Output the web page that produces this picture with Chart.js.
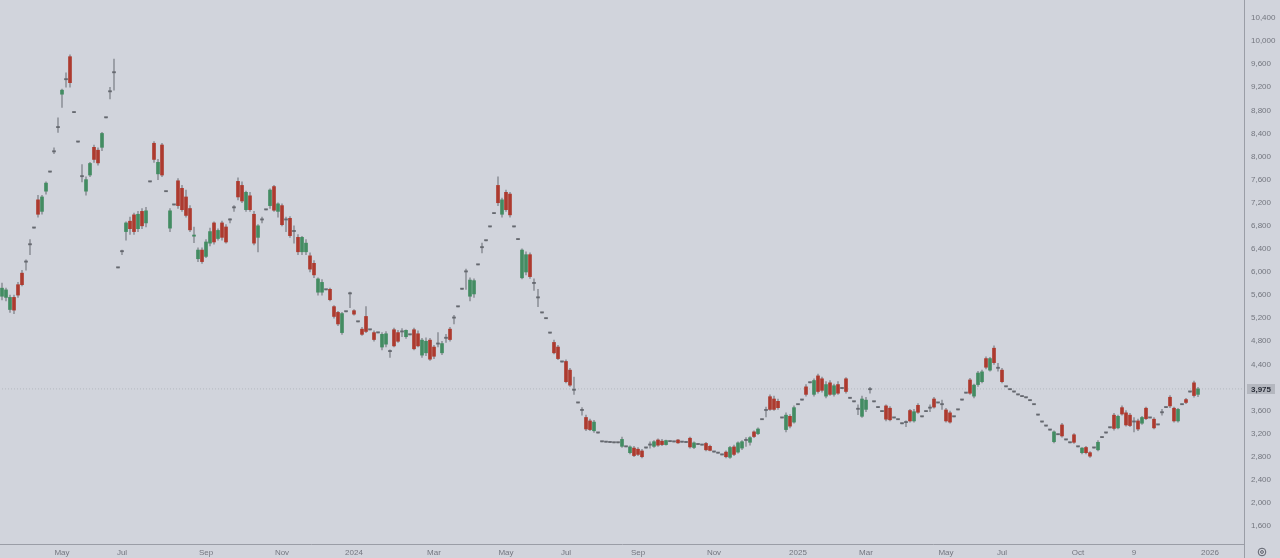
<!DOCTYPE html>
<html>
<head>
<meta charset="utf-8">
<script src="https://cdn.jsdelivr.net/npm/chart.js@4"></script>
<style>
  html, body { margin: 0; padding: 0; background: #d1d4dc; }
  #wrap { width: 1280px; height: 558px; position: relative; }
</style>
</head>
<body>
<div id="wrap"><canvas id="chart"></canvas></div>
<script>
// candles: [open, high, low, close]; a single number is a flat bar (o = h = l = c)
const candles2023 = [
  [5580,5810,5516,5720],[5560,5720,5500,5690],[5350,5600,5300,5560],[5560,5600,5280,5340],[5780,5820,5560,5600],
  [5980,6030,5760,5780],[6170,6210,6030,6170],[6470,6560,6300,6470],6760,[7250,7330,6950,7000],
  [7050,7330,7000,7300],[7400,7560,7350,7540],7730,[8080,8150,8050,8080],[8500,8670,8420,8500],
  [9080,9170,8850,9150],[9330,9450,9200,9330],[9730,9760,9200,9280],8760,8250,
  [7650,7860,7560,7650],[7400,7650,7330,7600],[7680,7900,7650,7880],[8160,8200,7900,7950],[8110,8150,7850,7890],
  [8160,8420,8100,8400],8670,[9120,9200,9000,9120],[9450,9690,9150,9450],6070,
  [6350,6380,6300,6350],[6700,6870,6550,6850],[6880,6950,6650,6750],[6990,7020,6650,6700],[6750,7050,6700,7000],
  [7050,7100,6750,6800],[6850,7120,6780,7060],7560,[8230,8260,7900,7950],[7700,7950,7600,7900],
  [8200,8230,7650,7680],7390,[6760,7100,6700,7060],7160,[7580,7620,7100,7150],
  [7450,7500,7050,7080],[7300,7420,6950,6980],[7100,7150,6700,6730],[6620,6780,6510,6640],[6230,6420,6180,6380],
  [6380,6420,6150,6180],[6270,6560,6250,6520],[6500,6760,6450,6700],[6850,6870,6480,6520],[6580,6750,6550,6720],
  [6850,6880,6550,6600],[6780,6820,6500,6520],[6900,6920,6850,6900],[7110,7150,7050,7110],[7570,7630,7250,7300],
  [7500,7560,7200,7230],[7080,7400,7050,7380],[7320,7380,7050,7080],[7000,7050,6470,6500],[6600,6820,6350,6800],
  [6900,6950,6850,6900],7075,[7150,7440,7100,7420],[7480,7500,7050,7070],[7050,7200,6950,7180],
  [7150,7180,6800,6820],[6900,6950,6700,6900],[6930,6960,6600,6630],[6700,6800,6500,6700],[6600,6650,6300,6350],
  [6350,6620,6300,6600],[6350,6560,6300,6500],[6280,6330,6000,6050],[6150,6200,5900,5950],[5650,5900,5600,5880],
  [5650,5870,5600,5820],5690,[5700,5720,5500,5520],[5400,5420,5200,5230],[5300,5320,5070,5100],
  [4950,5300,4920,5280],5310,[5620,5650,5380,5620]
];

const candles2024 = [
  [5330,5350,5250,5270],5135,[5010,5040,4900,4920],[5230,5400,4950,4970],4996,
  [4950,4980,4800,4830],4944,[4700,4950,4650,4920],[4750,4970,4700,4930],[4620,4650,4520,4620],
  [5000,5030,4700,4720],[4950,4990,4780,4800],[4960,5020,4880,4960],[4880,5000,4850,4990],4910,
  [5000,5030,4650,4670],[4930,4980,4700,4720],[4560,4850,4520,4820],[4600,4860,4550,4800],[4820,4850,4470,4490],
  [4700,4730,4500,4540],[4750,4950,4700,4750],[4600,4800,4570,4760],[4850,4920,4780,4850],[5010,5040,4800,4830],
  [5200,5250,5100,5200],5395,5700,[6000,6050,5700,6000],[5580,5900,5500,5860],
  [5620,5880,5560,5850],6122,[6420,6500,6330,6420],6540,6780,
  7010,[7500,7650,7150,7200],[7000,7280,6950,7250],[7380,7420,7050,7080],[7350,7380,6950,6990],
  6780,6560,[5900,6400,5880,6380],[6000,6350,5950,6300],[6300,6330,5890,5920],
  [5800,5880,5680,5800],[5550,5700,5400,5550],5290,5190,4940,
  [4780,4820,4580,4600],[4700,4730,4480,4500],4440,[4450,4480,4080,4100],[4300,4330,4020,4040],
  [3950,4180,3880,3950],3730,[3600,3650,3520,3600],[3480,3520,3250,3280],[3420,3450,3250,3270],
  [3250,3430,3220,3400],3210,3057,3050,3045,
  3040,3040,[2980,3140,2960,3100],2970,[2870,2990,2850,2970],
  [2950,2980,2800,2820],[2930,2960,2820,2840],[2900,2930,2780,2800],2950,[3000,3060,2950,3000],
  [2980,3080,2960,3060],[3090,3110,2980,3000],[3070,3100,2990,3010],[3010,3090,3000,3080],3060,
  3055,[3090,3100,3030,3040],3050,3045,[3120,3140,2950,2970],
  [2960,3060,2940,3040],3010,3000,[3030,3050,2900,2920],[2980,3000,2900,2910],
  2880,2860,2830,[2880,2900,2780,2800],[2790,2980,2770,2960],
  [2970,3000,2820,2840],[2880,3060,2860,3040],[2950,3080,2920,3060],[3080,3130,2980,3080],[3050,3150,3000,3130],
  [3230,3250,3130,3150],[3200,3300,3180,3280],3440,[3600,3660,3490,3600],[3840,3870,3600,3620],
  [3800,3850,3600,3620],[3760,3800,3620,3650],3470,[3270,3560,3230,3520],[3500,3530,3300,3330],
  [3400,3680,3380,3650]
];

const candles2025 = [
  3700,3780,[4010,4050,3850,3880],4080,[3880,4150,3850,4120],
  [4200,4230,3900,3930],[4150,4180,3920,3950],[3850,4100,3820,4050],[4080,4120,3860,3880],[3880,4060,3850,4030],
  [4050,4100,3880,3900],3980,[4150,4170,3900,3930],3810,3750,
  [3620,3700,3530,3620],[3500,3850,3480,3800],[3620,3830,3580,3780],[3960,4000,3900,3960],3750,
  3650,3580,[3680,3700,3420,3450],[3640,3670,3420,3440],3470,
  3440,3370,[3390,3420,3320,3390],[3600,3620,3400,3420],[3420,3620,3400,3580],
  [3690,3720,3550,3570],3490,3580,[3640,3700,3580,3640],[3800,3830,3640,3660],
  3730,[3700,3780,3620,3700],[3610,3640,3400,3420],[3560,3590,3380,3400],3490,
  3610,3780,3900,[4130,4160,3880,3900],[3850,4060,3820,4040],
  [4050,4280,4020,4250],[4100,4300,4080,4270],[4500,4530,4320,4350],[4300,4520,4280,4500],[4680,4720,4400,4430],
  [4330,4420,4280,4330],[4300,4330,4080,4100],4010,3960,3920,
  3870,3840,3820,3770,3700,
  3520,3400,3330,3260,[3060,3250,3040,3230],
  3180,[3350,3380,3140,3160],3090,3040,[3180,3200,3030,3050],
  2970,[2870,2960,2850,2950],[2960,2980,2850,2870],[2870,2890,2790,2810],2950,
  [2920,3080,2900,3050],3130,3210,3300,[3520,3550,3260,3290],
  [3300,3520,3280,3500],[3650,3680,3520,3540],[3560,3600,3330,3350],[3520,3550,3320,3340],[3400,3480,3230,3400],
  [3420,3450,3250,3280],[3380,3500,3360,3480],[3640,3660,3440,3460],3470,[3450,3480,3280,3300],
  3350,[3560,3620,3520,3560],3650,[3830,3860,3650,3680],[3640,3660,3400,3420],
  [3420,3640,3400,3620],3700,[3790,3810,3720,3740],3920,[4080,4110,3830,3860],
  [3880,4000,3840,3975]
];

// time axis: label text and the bar slot it sits under
const xTickLabels = ['May', 'Jul', 'Sep', 'Nov', '2024', 'Mar', 'May', 'Jul', 'Sep', 'Nov', '2025', 'Mar', 'May', 'Jul', 'Oct', '9', '2026'];
const xTickSlots = [15, 30, 51, 70, 88, 108, 126, 141, 159, 178, 199, 216, 236, 250, 269, 283, 302];

// price axis
const yTicks = [1600, 2000, 2400, 2800, 3200, 3600, 4400, 4800, 5200, 5600, 6000, 6400, 6800, 7200, 7600, 8000, 8400, 8800, 9200, 9600, 10000, 10400];
const yMin = 1288;
const yMax = 10712;

const SLOTS = 311;

const candles = [].concat(candles2023, candles2024, candles2025)
  .map((c) => (Array.isArray(c) ? c : [c, c, c, c]));
const lastClose = candles[candles.length - 1][3];

const slots = Array.from({ length: SLOTS }, (_, i) => i);
const bodies = slots.map((i) => (candles[i] ? [candles[i][0], candles[i][3]] : null));
const wicks = slots.map((i) => (candles[i] ? [candles[i][2], candles[i][1]] : null));
const priceLine = slots.map(() => lastClose);

const UP = '#438c62';
const DOWN = '#ad3a2f';
const FLAT = '#65686f';
const WICK = '#91949c';
const TEXT = '#73767f';
const AXIS = '#9a9da6';

function bodyColor(ctx) {
  const c = candles[ctx.dataIndex];
  if (!c) return FLAT;
  if (c[3] > c[0]) return UP;
  if (c[3] < c[0]) return DOWN;
  return FLAT;
}

function fmt(v) {
  return Number(v).toLocaleString('en-US');
}

const priceTag = {
  id: 'priceTag',
  afterDraw(chart) {
    const { ctx, chartArea, scales } = chart;
    const y = Math.round(scales.y.getPixelForValue(lastClose));
    ctx.save();
    ctx.fillStyle = '#b4b7bf';
    ctx.fillRect(chartArea.right + 3, y - 5, 28, 10);
    ctx.fillStyle = '#2a2e39';
    ctx.font = 'bold 8px "Liberation Sans", Arial, sans-serif';
    ctx.textAlign = 'center';
    ctx.textBaseline = 'middle';
    ctx.fillText(fmt(lastClose), chartArea.right + 17, y + 0.5);

    // axis line continues past the time scale, settings gear in the corner
    ctx.strokeStyle = AXIS;
    ctx.lineWidth = 1;
    ctx.beginPath();
    ctx.moveTo(chartArea.right + 0.5, 0);
    ctx.lineTo(chartArea.right + 0.5, chart.height);
    ctx.stroke();
    ctx.strokeStyle = '#5d606b';
    ctx.beginPath();
    ctx.arc(1262, 552, 3.8, 0, Math.PI * 2);
    ctx.stroke();
    ctx.beginPath();
    ctx.arc(1262, 552, 1.4, 0, Math.PI * 2);
    ctx.stroke();
    ctx.restore();
  },
};

Chart.defaults.font.family = '"Liberation Sans", Arial, sans-serif';
Chart.defaults.font.size = 8;

new Chart(document.getElementById('chart'), {
  type: 'bar',
  data: {
    labels: slots,
    datasets: [
      {
        label: 'body',
        data: bodies,
        grouped: false,
        barThickness: 3,
        minBarLength: 1.2,
        backgroundColor: bodyColor,
        borderWidth: 0,
        order: 0,
      },
      {
        label: 'wick',
        data: wicks,
        grouped: false,
        barThickness: 1,
        backgroundColor: WICK,
        borderWidth: 0,
        order: 1,
      },
      {
        type: 'line',
        label: 'last',
        data: priceLine,
        borderColor: 'rgba(130, 133, 144, 0.35)',
        borderWidth: 1,
        borderDash: [1, 2],
        pointRadius: 0,
        order: 2,
      },
    ],
  },
  options: {
    responsive: true,
    maintainAspectRatio: false,
    animation: false,
    layout: { padding: 0 },
    plugins: {
      legend: { display: false },
      tooltip: { enabled: false },
    },
    scales: {
      x: {
        type: 'category',
        offset: true,
        grid: { display: false, drawTicks: false },
        border: { display: true, color: AXIS },
        afterBuildTicks: (scale) => {
          scale.ticks = xTickSlots.map((v) => ({ value: v }));
        },
        afterFit: (scale) => {
          scale.height = 14;
          scale.paddingLeft = 0;
          scale.paddingRight = 0;
        },
        ticks: {
          autoSkip: false,
          maxRotation: 0,
          padding: 4,
          color: TEXT,
          callback: (value) => xTickLabels[xTickSlots.indexOf(value)],
        },
      },
      y: {
        position: 'right',
        min: yMin,
        max: yMax,
        grid: { display: false, drawTicks: false },
        border: { display: true, color: AXIS },
        afterBuildTicks: (scale) => {
          scale.ticks = yTicks.map((v) => ({ value: v }));
        },
        afterFit: (scale) => {
          scale.width = 36;
          scale.paddingTop = 0;
          scale.paddingBottom = 0;
        },
        ticks: {
          padding: 7,
          color: TEXT,
          callback: (value) => fmt(value),
        },
      },
    },
  },
  plugins: [priceTag],
});
</script>
</body>
</html>
